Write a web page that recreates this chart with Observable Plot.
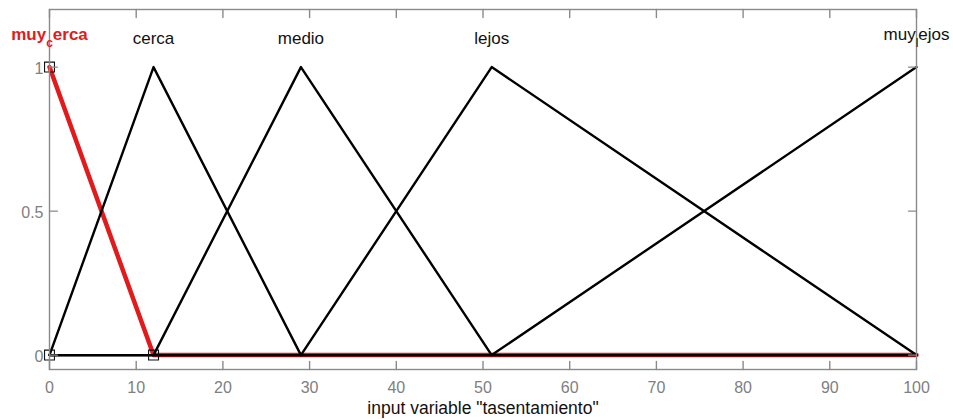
<!DOCTYPE html>
<html>
<head>
<meta charset="utf-8">
<script src="https://cdn.jsdelivr.net/npm/d3@7"></script>
<script src="https://cdn.jsdelivr.net/npm/@observablehq/plot@0.6"></script>
<style>
  html, body { margin: 0; padding: 0; background: #fff; }
</style>
</head>
<body>
<div id="chart"></div>
<script>
// Membership functions of the input variable: triangular, parameters [a, b, c]
const mfNames = ["muy_cerca", "cerca", "medio", "lejos", "muy_lejos"];
const mfParams = [[0, 0, 12], [0, 12, 29], [12, 29, 51], [29, 51, 100], [51, 100, 100]];
const selectedMf = "muy_cerca";
const inputRange = [0, 100];
const membershipRange = [-0.05, 1.2];
const xTicks = [0, 10, 20, 30, 40, 50, 60, 70, 80, 90, 100];
const yTicks = [0, 0.5, 1];
const xLabel = 'input variable "tasentamiento"';

// triangular membership value
function trimf(x, [a, b, c]) {
  if (x === b) return 1;
  if (x <= a || x >= c) return 0;
  return x < b ? (x - a) / (b - a) : (c - x) / (c - b);
}

// polyline vertices of each function over the input range
const rows = [];
mfNames.forEach((name, i) => {
  const p = mfParams[i];
  const xs = Array.from(new Set([inputRange[0], ...p, inputRange[1]]))
    .filter(x => x >= inputRange[0] && x <= inputRange[1])
    .sort((a, b) => a - b);
  xs.forEach(x => rows.push({name, x, mu: trimf(x, p)}));
});

// handle squares on the selected function's parameters
const selParams = mfParams[mfNames.indexOf(selectedMf)];
const handles = [
  {x: selParams[0], mu: 0},
  {x: selParams[1], mu: 1},
  {x: selParams[2], mu: 0}
];

const labels = mfNames.map((name, i) => ({name, x: mfParams[i][1]}));

const red = "#e31a1c";
const axisGray = "#8a8a8a";
const tickGray = "#808080";
const tickShape = {draw(context, l) { context.moveTo(0, 0); context.lineTo(0, -l); }};
const tickOpts = {length: 8, anchor: "start", shape: tickShape, stroke: axisGray, strokeWidth: 1.4};

const chart = Plot.plot({
  width: 953,
  height: 419,
  marginLeft: 49,
  marginRight: 37,
  marginTop: 9,
  marginBottom: 50,
  style: {fontFamily: '"Liberation Sans", Arial, Helvetica, sans-serif', background: "#fff", overflow: "visible"},
  x: {domain: inputRange, axis: null},
  y: {domain: membershipRange, axis: null},
  marks: [
    Plot.line(rows.filter(d => d.name === selectedMf), {x: "x", y: "mu", stroke: red, strokeWidth: 4.5}),
    Plot.line(rows.filter(d => d.name !== selectedMf), {x: "x", y: "mu", z: "name", stroke: "#000", strokeWidth: 2.4}),
    Plot.dot(handles, {x: "x", y: "mu", symbol: "square", r: 5.6, stroke: "#111", fill: "none", strokeWidth: 1.1}),
    Plot.frame({stroke: axisGray, strokeWidth: 1.4}),
    // inward tick marks on all four sides
    Plot.vector(xTicks, {x: d => d, frameAnchor: "bottom", rotate: 0, ...tickOpts}),
    Plot.vector(xTicks, {x: d => d, frameAnchor: "top", rotate: 180, ...tickOpts}),
    Plot.vector(yTicks, {y: d => d, frameAnchor: "left", rotate: 90, ...tickOpts}),
    Plot.vector(yTicks, {y: d => d, frameAnchor: "right", rotate: -90, ...tickOpts}),
    // tick labels
    Plot.text(xTicks, {x: d => d, frameAnchor: "bottom", dy: 23, lineAnchor: "bottom", text: d => String(d), fontSize: 16, fill: tickGray}),
    Plot.text(yTicks, {y: d => d, frameAnchor: "left", dx: -6, dy: 2, textAnchor: "end", lineAnchor: "middle", text: d => String(d), fontSize: 16, fill: tickGray}),
    // axis title
    Plot.text([xLabel], {frameAnchor: "bottom", dy: 44, lineAnchor: "bottom", text: d => d, fontSize: 17.5, fill: "#111"}),
    // membership function names above their peaks
    Plot.text(labels.filter(d => d.name !== selectedMf), {x: "x", y: 1.1, text: "name", lineAnchor: "middle", fontSize: 17, fill: "#111"}),
    Plot.text(labels.filter(d => d.name === selectedMf), {x: "x", y: 1.1, text: "name", lineAnchor: "middle", fontSize: 17, fontWeight: "bold", fill: red})
  ]
});

// TeX-style rendering of names: the character after "_" becomes a subscript
chart.querySelectorAll("text").forEach(t => {
  const s = t.textContent;
  const i = s.indexOf("_");
  if (i < 0 || i === s.length - 1) return;
  t.textContent = "";
  const ns = "http://www.w3.org/2000/svg";
  const parts = [
    {text: s.slice(0, i), dy: -4},
    {text: s.charAt(i + 1), dy: 7, size: "12px"},
    {text: s.slice(i + 2), dy: -7}
  ];
  parts.forEach(p => {
    const span = document.createElementNS(ns, "tspan");
    span.textContent = p.text;
    span.setAttribute("dy", p.dy);
    if (p.size) span.setAttribute("font-size", p.size);
    t.appendChild(span);
  });
});

document.getElementById("chart").appendChild(chart);
</script>
</body>
</html>
